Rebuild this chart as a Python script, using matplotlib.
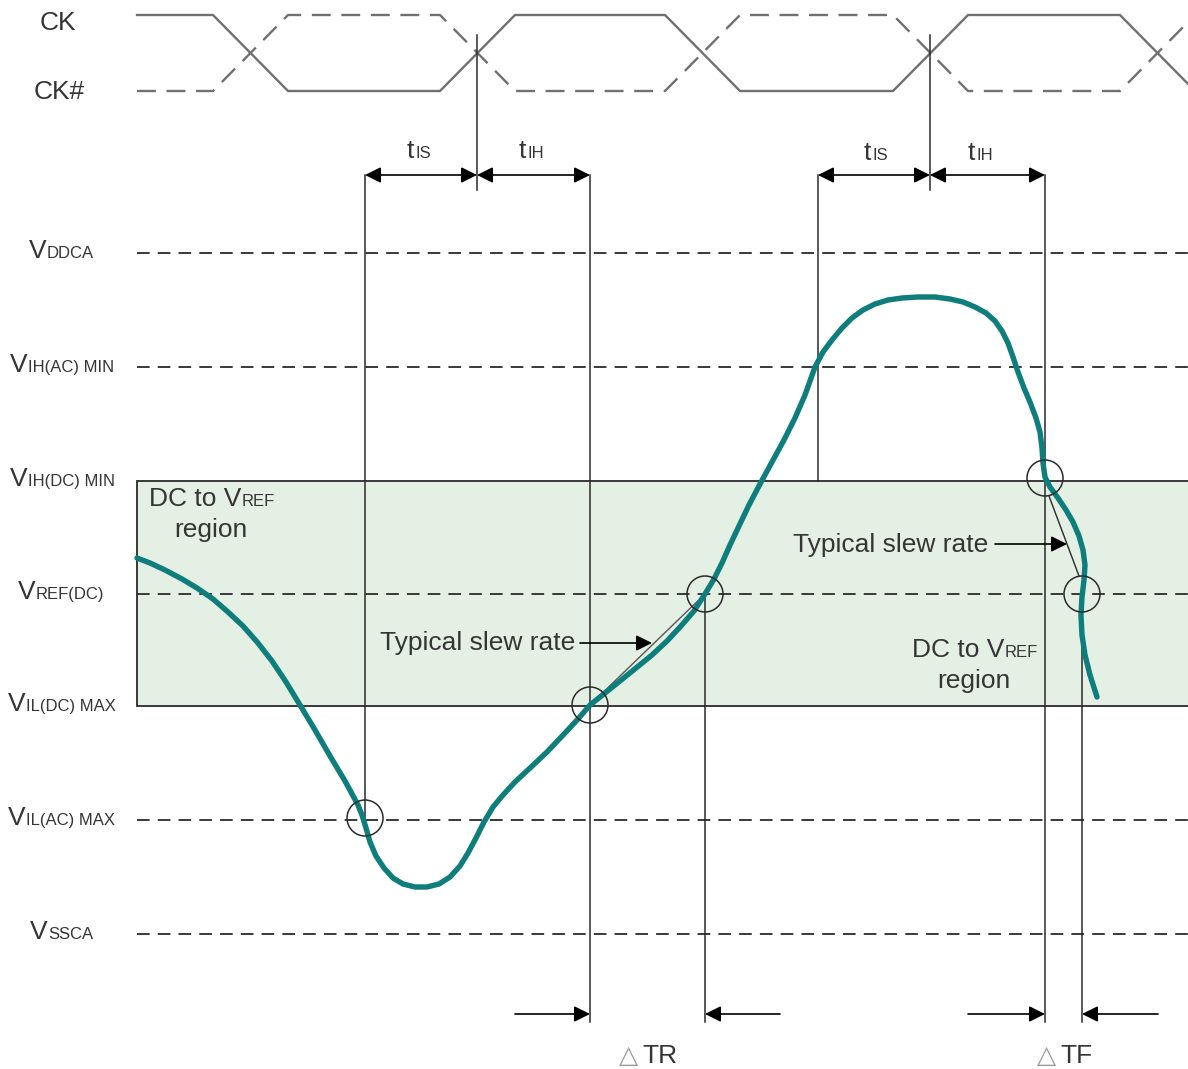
"""
Input timing diagram: CK / CK# with setup/hold windows and slew-rate regions.
Drawn in pixel-like coordinates on a single frameless axes.
"""

import matplotlib
matplotlib.use("Agg")
import matplotlib.pyplot as plt
from matplotlib.patches import Circle, Rectangle

plt.rcParams["font.family"] = ["Liberation Sans", "DejaVu Sans"]

W, H = 1188, 1069

TEXT = "#353535"
LINE = "#2a2a2a"
CLOCK_GREY = "#707070"
TEAL = "#0e7e7d"
REGION_FILL = "#e5f0e5"
FS = 19

# clock: start of each transition, CK starts high
CLOCK_EDGES = [213, 440, 665, 893, 1120]
EDGE_WIDTH = 75
CK_HIGH, CK_LOW = 15, 91
CLOCK_START = 137

# voltage levels
LEVEL_SUBS = ["DDCA", "IH(AC) MIN", "IH(DC) MIN", "REF(DC)", "IL(DC) MAX", "IL(AC) MAX", "SSCA"]
LEVEL_Y = [253, 367, 481, 594, 706, 820, 934]
LEVEL_LABEL_X = [29, 10, 10, 18, 8, 8, 30]
LEVEL_DASHED = [True, True, False, True, False, True, True]

# input signal
CURVE_X = [137, 150, 165, 182, 197, 213, 228, 243, 258, 272, 286, 300, 315, 330,
           345, 358, 362, 366, 370, 376, 384, 393, 403, 415, 427, 439, 450, 460,
           468, 476, 484, 493, 503, 515, 530, 547, 565, 578, 590, 605, 620, 636,
           652, 667, 681, 694, 705, 714, 722, 730, 739, 749, 760, 772, 784, 795,
           805, 815, 823, 832, 842, 852, 863, 875, 888, 902, 918, 935, 950, 963,
           975, 986, 995, 1002, 1008, 1013, 1018, 1024, 1030, 1036, 1040, 1042,
           1043, 1045, 1050, 1058, 1066, 1073, 1079, 1083, 1085, 1084, 1082, 1081,
           1082, 1085, 1090, 1097]
CURVE_Y = [558, 563, 570, 579, 588, 599, 612, 626, 643, 661, 682, 705, 730, 756,
           781, 805, 815, 828, 842, 856, 868, 878, 884, 887, 887, 884, 877, 866,
           853, 838, 822, 807, 795, 782, 768, 752, 733, 719, 705, 693, 681, 668,
           655, 641, 626, 611, 594, 579, 563, 545, 526, 505, 484, 462, 440, 418,
           395, 367, 352, 340, 328, 318, 310, 304, 300, 298, 297, 297, 299, 302,
           307, 313, 321, 331, 343, 357, 372, 388, 402, 418, 432, 448, 463, 477,
           487, 498, 510, 522, 536, 550, 565, 580, 597, 615, 635, 655, 675, 697]

# crossing markers
CIRCLE_X = [365, 590, 705, 1045, 1082]
CIRCLE_Y = [818, 705, 594, 478, 594]

# timing references (x, y_top, y_bottom)
VLINES = [(477, 35, 190), (930, 35, 190),
          (365, 175, 818), (590, 175, 1022), (705, 594, 1022),
          (818, 175, 481), (1045, 175, 1022), (1082, 594, 1022)]

# tIS / tIH windows
WINDOW_Y = 175
WINDOWS = [(365, 477, "IS", 407, 158), (477, 590, "IH", 519, 158),
           (818, 930, "IS", 864, 160), (930, 1045, "IH", 968, 160)]

# delta T arrows
DT_Y = 1014
DT_ARROWS = [(515, 590), (780, 705), (968, 1045), (1158, 1082)]
DT_LABELS = [("TR", 619, 1063), ("TF", 1037, 1063)]


def small_caps(ax, x, y, big, small, big_size=FS, small_size=12, gap=0.3, **kw):
    t = ax.text(x, y, big, fontsize=big_size, color=TEXT, va="baseline", ha="left", **kw)
    ax.annotate(small, xy=(1, 0), xycoords=t, xytext=(gap, 1.3),
                textcoords="offset points", fontsize=small_size, color=TEXT,
                va="bottom", ha="left")
    return t


def arrow(ax, x0, y0, x1, y1, style="-|>"):
    ax.annotate("", xy=(x1, y1), xytext=(x0, y0),
                arrowprops=dict(arrowstyle=style, color="black", lw=1.2,
                                shrinkA=0, shrinkB=0, mutation_scale=24))


def clock_wave(start_high):
    xs, ys = [CLOCK_START], [CK_HIGH if start_high else CK_LOW]
    level = start_high
    for e in CLOCK_EDGES:
        xs += [e, e + EDGE_WIDTH]
        ys += [CK_HIGH if level else CK_LOW, CK_LOW if level else CK_HIGH]
        level = not level
    return xs, ys


def main():
    fig = plt.figure(figsize=(W / 100, H / 100), dpi=100)
    ax = fig.add_axes([0, 0, 1, 1])
    ax.set_xlim(0, W)
    ax.set_ylim(H, 0)
    ax.axis("off")

    # clock
    x, y = clock_wave(True)
    ax.plot(x, y, color=CLOCK_GREY, lw=1.7, solid_joinstyle="miter")
    x, y = clock_wave(False)
    ax.plot(x, y, color=CLOCK_GREY, lw=1.7, dashes=(8, 4.5))
    ax.text(40, 30, "CK", fontsize=FS, color=TEXT, va="baseline")
    ax.text(34, 99, "CK#", fontsize=FS, color=TEXT, va="baseline")

    # DC to VREF region box
    top, bottom = LEVEL_Y[2], LEVEL_Y[4]
    ax.add_patch(Rectangle((137, top), W, bottom - top, facecolor=REGION_FILL,
                           edgecolor=LINE, lw=1.3, zorder=1))

    # levels
    for sub, ly, lx, dashed in zip(LEVEL_SUBS, LEVEL_Y, LEVEL_LABEL_X, LEVEL_DASHED):
        if dashed:
            ax.plot([137, W], [ly, ly], color=LINE, lw=1.3, dashes=(7, 4.5), zorder=2)
        small_caps(ax, lx, ly + 5, "V", sub)

    # vertical timing lines
    for vx, y0, y1 in VLINES:
        ax.plot([vx, vx], [y0, y1], color=LINE, lw=1.1, zorder=3)

    # setup / hold arrows
    for x0, x1, sub, tx, ty in WINDOWS:
        arrow(ax, x0, WINDOW_Y, x1, WINDOW_Y, style="<|-|>")
        small_caps(ax, tx, ty, "t", sub, big_size=FS, small_size=12, gap=1.0)

    # slew rate guide lines (under the curve)
    ax.plot([590, 705], [705, 594], color="#555555", lw=1.0, zorder=3)
    ax.plot([1049, 1079], [496, 576], color=LINE, lw=1.0, zorder=3)

    # signal
    ax.plot(CURVE_X, CURVE_Y, color=TEAL, lw=3.9, solid_capstyle="round",
            solid_joinstyle="round", zorder=4)

    for cx, cy in zip(CIRCLE_X, CIRCLE_Y):
        ax.add_patch(Circle((cx, cy), 18, facecolor="none", edgecolor=LINE,
                            lw=1.1, zorder=5))

    # region labels
    small_caps(ax, 149, 506, "DC to V", "REF")
    ax.text(211, 537, "region", fontsize=FS, color=TEXT, ha="center", va="baseline")
    small_caps(ax, 912, 657, "DC to V", "REF")
    ax.text(974, 688, "region", fontsize=FS, color=TEXT, ha="center", va="baseline")

    # typical slew rate
    ax.text(575, 650, "Typical slew rate", fontsize=FS, color=TEXT, ha="right", va="baseline")
    arrow(ax, 580, 643, 652, 643)
    ax.text(988, 552, "Typical slew rate", fontsize=FS, color=TEXT, ha="right", va="baseline")
    arrow(ax, 995, 544, 1067, 544)

    # delta T
    for x0, x1 in DT_ARROWS:
        arrow(ax, x0, DT_Y, x1, DT_Y)
    for name, lx, ly in DT_LABELS:
        ax.text(lx, ly, "\u25b3", fontsize=18, color="#9a9a9a", va="baseline",
                family=["DejaVu Sans"])
        ax.text(lx + 23, ly, name, fontsize=FS, color=TEXT, va="baseline")

    fig.savefig("out.png", dpi=100)
    plt.close(fig)


if __name__ == "__main__":
    main()
